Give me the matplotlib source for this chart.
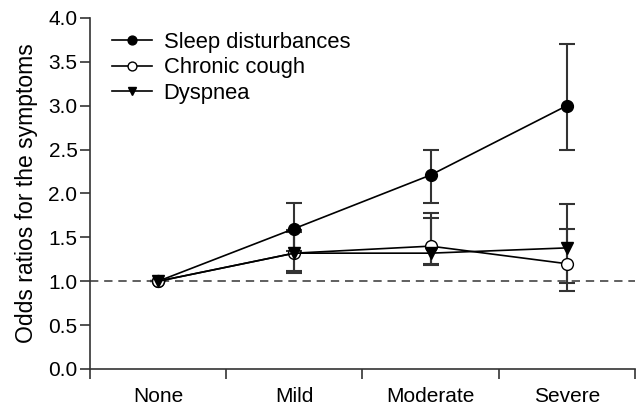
import numpy as np
import matplotlib
matplotlib.use("Agg")
import matplotlib.pyplot as plt

categories = ["None", "Mild", "Moderate", "Severe"]

sleep = [1.0, 1.6, 2.21, 3.0]
sleep_lo = [1.0, 1.35, 1.89, 2.5]
sleep_hi = [1.0, 1.89, 2.5, 3.7]

cough = [1.0, 1.32, 1.4, 1.2]
cough_lo = [1.0, 1.09, 1.18, 0.89]
cough_hi = [1.0, 1.58, 1.78, 1.6]

dyspnea = [1.0, 1.32, 1.32, 1.38]
dyspnea_lo = [1.0, 1.12, 1.2, 0.98]
dyspnea_hi = [1.0, 1.56, 1.72, 1.88]

plt.rcParams['font.family'] = ['Liberation Sans', 'DejaVu Sans']
plt.rcParams['font.size'] = 15

fig = plt.figure(figsize=(6.4, 4.05), dpi=100)
ax = fig.add_axes([0.1406, 0.0889, 0.992 - 0.1406, 0.9556 - 0.0889])

x = np.arange(len(categories))

def draw(vals, lo, hi, label, marker, face):
    vals = np.array(vals)
    err = [vals - np.array(lo), np.array(hi) - vals]
    ax.errorbar(x, vals, yerr=err, fmt='none', ecolor='#333333', elinewidth=1.5,
                capsize=6, capthick=1.5, zorder=2)
    ax.plot(x, vals, color='black', lw=1.2, marker=marker, markersize=8.5,
            markerfacecolor=face, markeredgecolor='black', markeredgewidth=1.0,
            label=label, zorder=3)

draw(sleep, sleep_lo, sleep_hi, "Sleep disturbances", 'o', 'black')
draw(cough, cough_lo, cough_hi, "Chronic cough", 'o', 'white')
draw(dyspnea, dyspnea_lo, dyspnea_hi, "Dyspnea", 'v', 'black')

ax.axhline(1.0, color='#444444', lw=1.2, ls=(0, (5, 3.5)), zorder=1)

ax.set_xlim(-0.5, 3.5)
ax.set_ylim(0, 4.0)
ax.set_yticks(np.arange(0, 4.01, 0.5))
ax.set_yticklabels([f"{v:.1f}" for v in np.arange(0, 4.01, 0.5)])
ax.set_xticks(np.arange(-0.5, 3.6, 1.0))
ax.set_xticklabels([])
ax.set_xticks(x, minor=True)
ax.set_xticklabels(categories, minor=True)
ax.tick_params(axis='x', which='minor', length=0, pad=13)
ax.tick_params(axis='both', which='major', length=7, width=1.2, color='#333333')
ax.tick_params(axis='y', pad=2)

for s in ['top', 'right']:
    ax.spines[s].set_visible(False)
for s in ['left', 'bottom']:
    ax.spines[s].set_linewidth(1.2)
    ax.spines[s].set_color('#333333')

ax.set_ylabel("Odds ratios for the symptoms", fontsize=16.5)
ax.yaxis.set_label_coords(-0.096, 0.5)

ax.legend(loc='upper left', bbox_to_anchor=(112 / 640, 1 - 32 / 405),
          bbox_transform=fig.transFigure, frameon=False, borderpad=0,
          borderaxespad=0, handlelength=1.8, handletextpad=0.55,
          labelspacing=0.2, markerscale=0.75, fontsize=15.8)

fig.savefig("out.png", dpi=100)
